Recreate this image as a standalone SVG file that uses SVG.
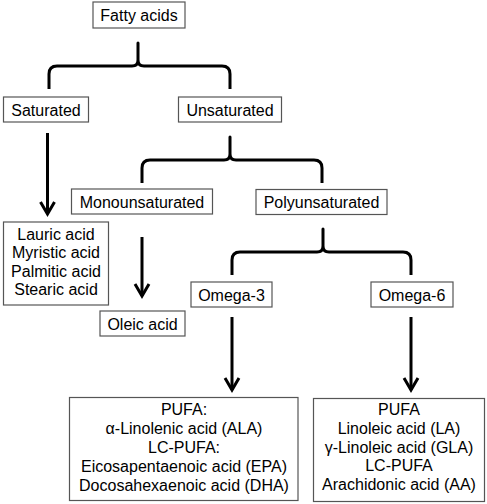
<svg xmlns="http://www.w3.org/2000/svg" width="487" height="504" viewBox="0 0 487 504">
<style>
.box{fill:#fff;stroke:#555;stroke-width:1.2}
.t{font-family:"Liberation Sans",Arial,sans-serif;font-size:16px;fill:#000;text-anchor:middle}
.c{fill:none;stroke:#000;stroke-width:3;stroke-linecap:butt;stroke-linejoin:round}
</style>
<defs>
<marker id="ah" markerUnits="userSpaceOnUse" viewBox="-14 -8 16 16" refX="0" refY="0" markerWidth="16" markerHeight="16" orient="auto" overflow="visible">
<path d="M-12,-7 L0,0 L-12,7" fill="none" stroke="#000" stroke-width="3"/>
</marker>
</defs>
<rect width="487" height="504" fill="#fff"/>
<g id="connectors">
<path class="c" d="M49,89 V74 Q49,66 57,66 H132 Q138,66 138,60 V43 V60 Q138,66 144,66 H222 Q230,66 230,74 V89"/>
<path class="c" d="M142,183 V168 Q142,160 150,160 H224 Q230,160 230,154 V137 V154 Q230,160 236,160 H314 Q322,160 322,168 V183"/>
<path class="c" d="M232,275 V260 Q232,252 240,252 H317 Q323,252 323,246 V229 V246 Q323,252 329,252 H403 Q411,252 411,260 V275"/>
<line class="c" x1="47.5" y1="133" x2="47.5" y2="214" marker-end="url(#ah)"/>
<line class="c" x1="142" y1="237" x2="142" y2="296" marker-end="url(#ah)"/>
<line class="c" x1="232" y1="317" x2="232" y2="390" marker-end="url(#ah)"/>
<line class="c" x1="411" y1="317" x2="411" y2="390" marker-end="url(#ah)"/>
</g>
<g id="fatty-acids"><rect class="box" x="93" y="2" width="92" height="26"/><text class="t" x="139" y="21">Fatty acids</text></g>
<g id="saturated"><rect class="box" x="3.5" y="97" width="85" height="25"/><text class="t" x="46" y="115.5">Saturated</text></g>
<g id="unsaturated"><rect class="box" x="178.5" y="97" width="103" height="25"/><text class="t" x="230" y="115.5">Unsaturated</text></g>
<g id="monounsaturated"><rect class="box" x="71.5" y="189" width="141" height="25"/><text class="t" x="142" y="207.5">Monounsaturated</text></g>
<g id="polyunsaturated"><rect class="box" x="256" y="189.5" width="131" height="25"/><text class="t" x="321.5" y="208">Polyunsaturated</text></g>
<g id="saturated-list"><rect class="box" x="3.5" y="222" width="105" height="83"/>
<text class="t" x="56" y="239.5">Lauric acid</text>
<text class="t" x="56" y="258">Myristic acid</text>
<text class="t" x="56" y="276.5">Palmitic acid</text>
<text class="t" x="56" y="295">Stearic acid</text></g>
<g id="oleic"><rect class="box" x="100" y="311" width="85" height="25"/><text class="t" x="142.5" y="329.5">Oleic acid</text></g>
<g id="omega3"><rect class="box" x="191" y="282" width="81" height="25"/><text class="t" x="231.5" y="300.5">Omega-3</text></g>
<g id="omega6"><rect class="box" x="371" y="282" width="82" height="25"/><text class="t" x="412" y="300.5">Omega-6</text></g>
<g id="omega3-list"><rect class="box" x="69.5" y="397.5" width="228.5" height="103"/>
<text class="t" x="184" y="415">PUFA:</text>
<text class="t" x="184" y="434">α-Linolenic acid (ALA)</text>
<text class="t" x="184" y="453">LC-PUFA:</text>
<text class="t" x="184" y="472">Eicosapentaenoic acid (EPA)</text>
<text class="t" x="184" y="490.5">Docosahexaenoic acid (DHA)</text></g>
<g id="omega6-list"><rect class="box" x="313.5" y="398.5" width="171" height="103"/>
<text class="t" x="399" y="415">PUFA</text>
<text class="t" x="399" y="434">Linoleic acid (LA)</text>
<text class="t" x="399" y="452.5">γ-Linoleic acid (GLA)</text>
<text class="t" x="399" y="471">LC-PUFA</text>
<text class="t" x="399" y="489.5">Arachidonic acid (AA)</text></g>
</svg>
